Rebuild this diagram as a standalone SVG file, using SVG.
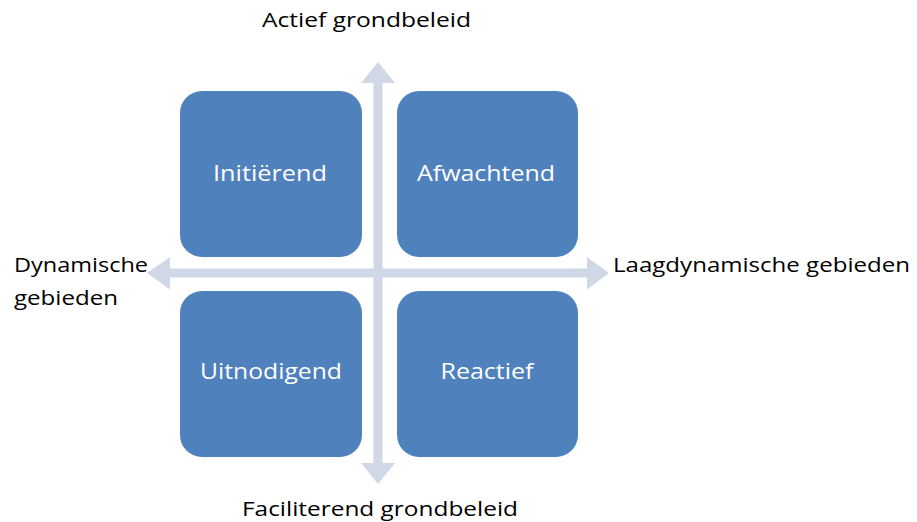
<svg xmlns="http://www.w3.org/2000/svg" width="917" height="522" viewBox="0 0 917 522">
<style>
.box{fill:#4F81BD;}
.axis{fill:#D0D8E8;}
.bt{font-family:"Open Sans","Liberation Sans",sans-serif;font-size:21.5px;fill:#FFFFFF;text-anchor:middle;}
.lb{font-family:"Open Sans","Liberation Sans",sans-serif;font-size:19.5px;fill:#000000;}
</style>
<rect width="917" height="522" fill="#FFFFFF"/>
<g id="connectors">
<path class="axis" d="M373.5,83 L361,83 L378,62 L395,83 L382.5,83 L382.5,463 L395,463 L378,484 L361,463 L373.5,463 Z"/>
<path class="axis" d="M170,268.5 L170,257 L147,273 L170,289.5 L170,277.5 L587,277.5 L587,289.5 L609,273 L587,257 L587,268.5 Z"/>
</g>
<g id="node-initierend">
<rect class="box" x="180" y="91" width="182" height="166" rx="22" ry="22"/>
<text class="bt" x="270" y="181" textLength="114" lengthAdjust="spacingAndGlyphs">Initiërend</text>
</g>
<g id="node-afwachtend">
<rect class="box" x="397" y="91" width="181" height="166" rx="22" ry="22"/>
<text class="bt" x="486" y="181" textLength="138" lengthAdjust="spacingAndGlyphs">Afwachtend</text>
</g>
<g id="node-uitnodigend">
<rect class="box" x="180" y="291" width="182" height="166" rx="22" ry="22"/>
<text class="bt" x="271" y="379" textLength="142" lengthAdjust="spacingAndGlyphs">Uitnodigend</text>
</g>
<g id="node-reactief">
<rect class="box" x="397" y="291" width="181" height="166" rx="22" ry="22"/>
<text class="bt" x="487" y="379" textLength="93" lengthAdjust="spacingAndGlyphs">Reactief</text>
</g>
<g id="labels">
<text class="lb" x="262" y="27" textLength="209" lengthAdjust="spacingAndGlyphs">Actief grondbeleid</text>
<text class="lb" x="242" y="516" textLength="276" lengthAdjust="spacingAndGlyphs">Faciliterend grondbeleid</text>
<text class="lb" x="14" y="272" textLength="134" lengthAdjust="spacingAndGlyphs">Dynamische</text>
<text class="lb" x="14" y="305" textLength="104" lengthAdjust="spacingAndGlyphs">gebieden</text>
<text class="lb" x="613" y="272" textLength="297" lengthAdjust="spacingAndGlyphs">Laagdynamische gebieden</text>
</g>
</svg>
